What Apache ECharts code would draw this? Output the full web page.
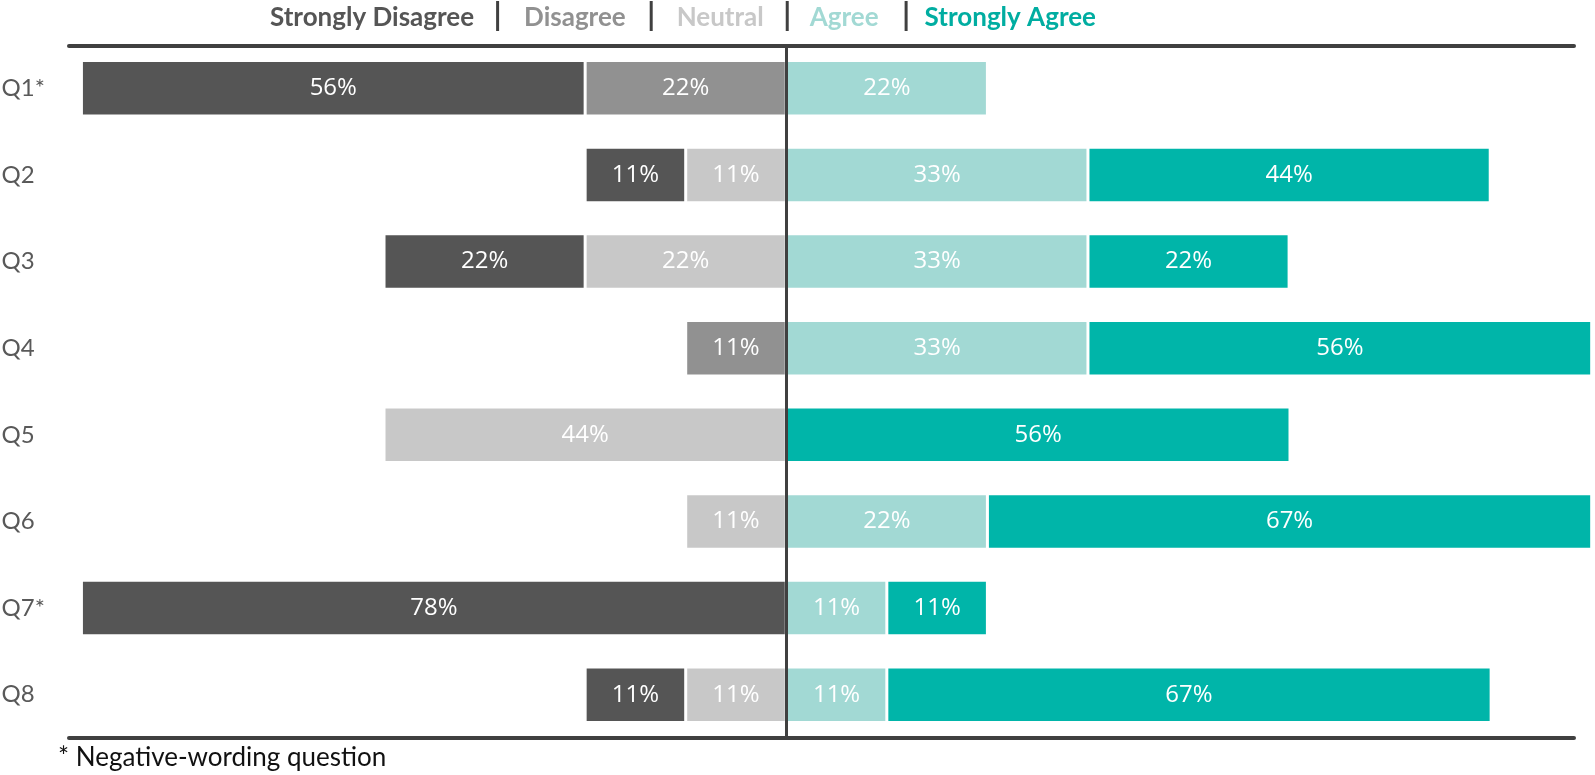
<!DOCTYPE html>
<html>
<head>
<meta charset="utf-8">
<script src="https://cdn.jsdelivr.net/npm/echarts@6/dist/echarts.min.js"></script>
<style>
html,body{margin:0;padding:0;background:#fff;}
#chart{width:1595px;height:775px;}
</style>
</head>
<body>
<div id="chart"></div>
<script>
// ---- data (percent of respondents) ----
const categories = ['Q1*', 'Q2', 'Q3', 'Q4', 'Q5', 'Q6', 'Q7*', 'Q8'];
const stronglyDisagree = [55.6, 11.1, 22.2, 0, 0, 0, 77.8, 11.1];
const disagree         = [22.2, 0, 0, 11.1, 0, 0, 0, 0];
const neutral          = [0, 11.1, 22.2, 0, 44.4, 11.1, 0, 11.1];
const agree            = [22.2, 33.3, 33.3, 33.3, 0, 22.2, 11.1, 11.1];
const stronglyAgree    = [0, 44.4, 22.2, 55.6, 55.6, 66.7, 11.1, 66.7];
const legendNames = ['Strongly Disagree', 'Disagree', 'Neutral', 'Agree', 'Strongly Agree'];
const footnote = '* Negative-wording question';

const colors = {
  sd: '#555555', d: '#919191', n: '#c8c8c8', a: '#a2d9d4', sa: '#00b5a9'
};
const lineColor = '#404040';

const chart = echarts.init(document.getElementById('chart'));

const labelCfg = {
  show: true,
  position: 'inside',
  color: '#ffffff',
  fontFamily: 'Open Sans',
  fontSize: 24,
  formatter: p => Math.round(Math.abs(p.value)) + '%'
};

function makeSeries(name, arr, color, negative, extra) {
  return Object.assign({
    name: name,
    type: 'bar',
    stack: 'total',
    barCategoryGap: '36%',
    data: arr.map(v => v ? (negative ? -v : v) : null),
    itemStyle: { color: color, borderColor: '#ffffff', borderWidth: 1.5 },
    label: labelCfg,
    emphasis: { disabled: true }
  }, extra || {});
}

const legendFont = { fontFamily: 'Lato', fontWeight: 'bold', fontSize: 26 };

const option = {
  animation: false,
  backgroundColor: '#ffffff',
  title: {
    left: 270,
    top: 1,
    padding: 0,
    text: '{sd|' + legendNames[0] + '}{sep| }{d|' + legendNames[1] + '}{sep| }{n|' + legendNames[2] + '}{sep| }{a|' + legendNames[3] + '}{sep| }{sa|' + legendNames[4] + '}',
    textStyle: Object.assign({
      lineHeight: 30,
      rich: {
        sd: Object.assign({ color: colors.sd, padding: [4, 22, 0, 0] }, legendFont),
        d:  Object.assign({ color: colors.d,  padding: [4, 24, 0, 25] }, legendFont),
        n:  Object.assign({ color: colors.n,  padding: [4, 22, 0, 24] }, legendFont),
        a:  Object.assign({ color: colors.a,  padding: [4, 26, 0, 21] }, legendFont),
        sa: Object.assign({ color: '#00ada1', padding: [4, 0, 0, 17] }, legendFont),
        sep: { width: 3, height: 30, backgroundColor: lineColor, fontSize: 24 }
      }
    }, legendFont)
  },
  grid: { left: 79.6, right: 2.4, top: 45, bottom: 37, containLabel: false, outerBoundsMode: 'none' },
  xAxis: {
    type: 'value',
    min: -78,
    max: 89,
    show: false
  },
  yAxis: {
    type: 'category',
    inverse: true,
    data: categories,
    axisLine: { show: false },
    axisTick: { show: false },
    splitLine: { show: false },
    axisLabel: {
      align: 'left',
      margin: 78,
      color: '#595959',
      fontFamily: 'Lato',
      fontSize: 24
    }
  },
  graphic: [
    { type: 'line', shape: { x1: 69, y1: 46, x2: 1574, y2: 46 }, style: { stroke: lineColor, lineWidth: 4, lineCap: 'round' }, z: 100 },
    { type: 'line', shape: { x1: 69, y1: 738, x2: 1574, y2: 738 }, style: { stroke: lineColor, lineWidth: 4, lineCap: 'round' }, z: 100 },
    { type: 'text', left: 58, top: 745, style: { text: footnote, fill: '#111111', font: '26px Lato' } }
  ],
  series: [
    makeSeries(legendNames[2], neutral, colors.n, true),
    makeSeries(legendNames[1], disagree, colors.d, true),
    makeSeries(legendNames[0], stronglyDisagree, colors.sd, true),
    makeSeries(legendNames[3], agree, colors.a, false),
    makeSeries(legendNames[4], stronglyAgree, colors.sa, false, {
      markLine: {
        silent: true,
        symbol: 'none',
        label: { show: false },
        lineStyle: { color: lineColor, width: 3, type: 'solid' },
        data: [{ xAxis: 0 }]
      }
    })
  ]
};

chart.setOption(option);
</script>
</body>
</html>
